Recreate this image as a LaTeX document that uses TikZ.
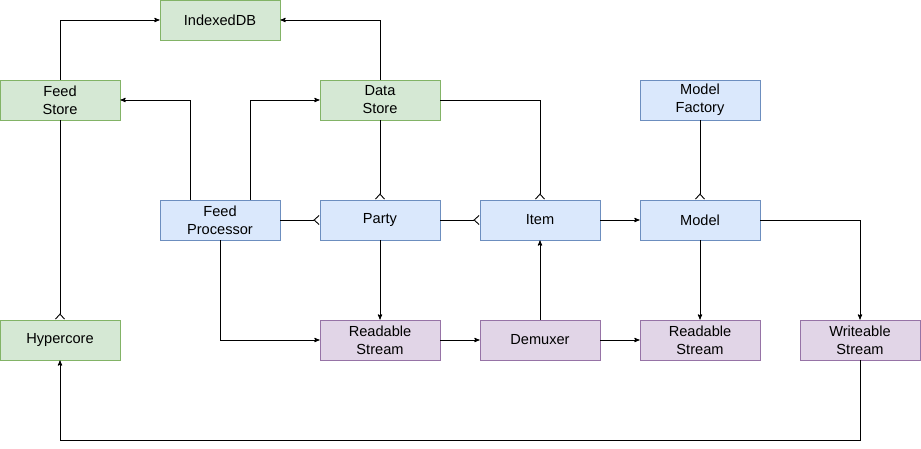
\documentclass[tikz,border=0pt]{standalone}
\usepackage{fontspec}
\setmainfont{Liberation Sans}
\usetikzlibrary{arrows, arrows.meta, positioning}

\definecolor{storefill}{HTML}{D5E8D4}
\definecolor{storeline}{HTML}{82B366}
\definecolor{procfill}{HTML}{DAE8FC}
\definecolor{procline}{HTML}{6C8EBF}
\definecolor{streamfill}{HTML}{E1D5E7}
\definecolor{streamline}{HTML}{9673A6}

\tikzset{
  box/.style={rectangle, minimum width=120pt, minimum height=40pt,
    align=center, inner sep=0pt, line width=0.9pt,
    font=\fontsize{14.6}{18}\selectfont},
  store/.style={box, fill=storefill, draw=storeline},
  proc/.style={box, fill=procfill, draw=procline},
  stream/.style={box, fill=streamfill, draw=streamline},
  many/.style={-{Straight Barb[reversed,length=5pt,width=9pt,line width=0.9pt]}},
}

\begin{document}
\begin{tikzpicture}[x=1pt, y=-1pt, >=stealth', line width=0.9pt,
                    on grid, node distance=160pt]
\useasboundingbox (0,0) rectangle (921,449);
\node[store]  (fs)    at (60,100)  {Feed\\Store};
\node[store]  (idb)   at (220,20)  {IndexedDB};
\node[store]  (ds)    at (380,100) {Data\\Store};
\node[proc]   (mf)    at (700,100) {Model\\Factory};
\node[proc]   (fp)    at (220,220) {Feed\\Processor};
\node[proc]   (party) [right=of fp]    {Party};
\node[proc]   (item)  [right=of party] {Item};
\node[proc]   (model) [right=of item]  {Model};
\node[store]  (hc)    at (60,340)  {Hypercore};
\node[stream] (rs1)   at (380,340) {Readable\\Stream};
\node[stream] (dmx)   [right=of rs1] {Demuxer};
\node[stream] (rs2)   [right=of dmx] {Readable\\Stream};
\node[stream] (ws)    [right=of rs2] {Writeable\\Stream};

% stores
\draw[->] (fs.north) |- (idb.west);
\draw[->] (ds.north) |- (idb.east);
\draw[->] ([xshift=-30pt]fp.north) |- (fs.east);
\draw[->] ([xshift=30pt]fp.north) |- (ds.west);
\draw[many] (ds.east) -| (item.north);
\draw[many] (ds) -- (party);
\draw[many] (mf) -- (model);
\draw[many] (fs) -- (hc);
% processing
\draw[many] (fp) -- (party);
\draw[many] (party) -- (item);
\draw[->] (item) -- (model);
\draw[->] (model.east) -| (ws.north);
\draw[->] (model) -- (rs2);
\draw[->] (party) -- (rs1);
\draw[->] (fp.south) |- (rs1.west);
% streams
\draw[->] (rs1) -- (dmx);
\draw[->] (dmx) -- (rs2);
\draw[->] (dmx) -- (item);
\draw[->] (ws.south) -- ++(0,80) -| (hc.south);
\end{tikzpicture}
\end{document}
